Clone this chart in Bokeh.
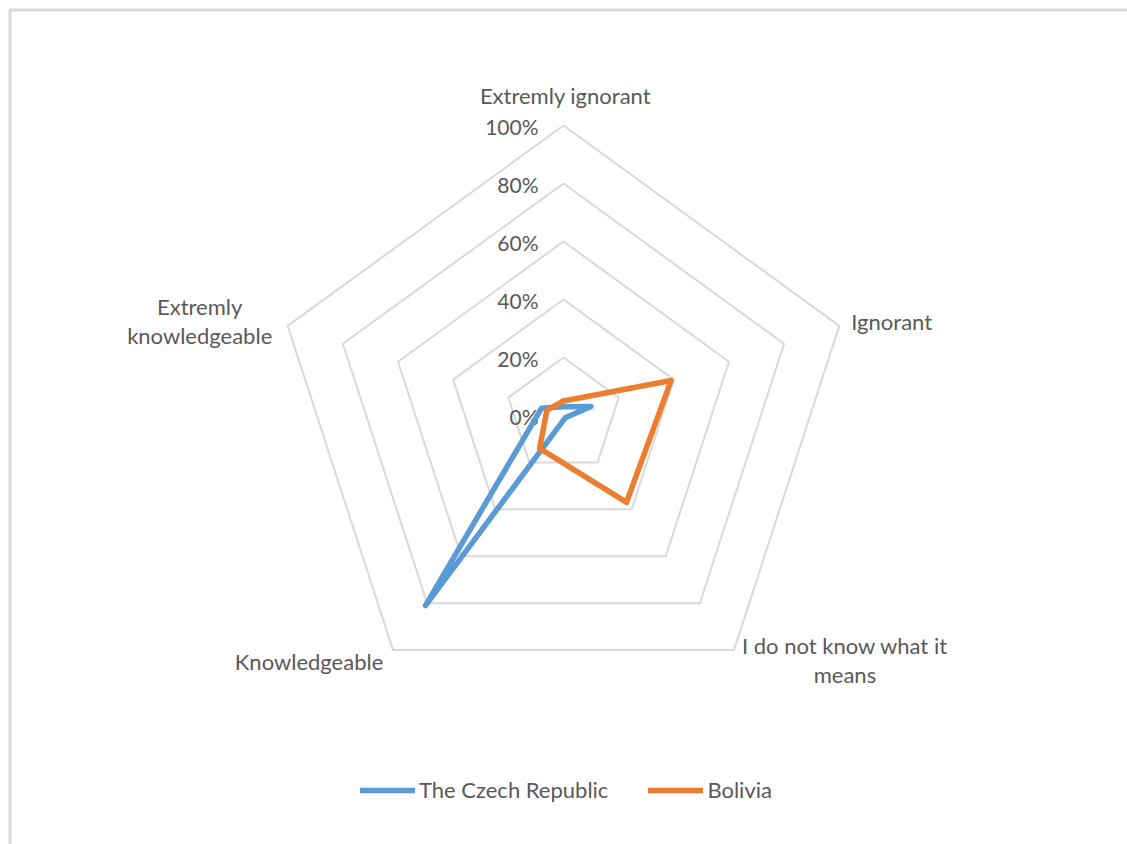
import math
from bokeh.plotting import figure
from bokeh.models import Range1d, Legend, LegendItem, ColumnDataSource
from bokeh.core.properties import value
from bokeh.embed import file_html
from bokeh.resources import INLINE

# ---- data ----
categories = ["Extremly ignorant", "Ignorant", "I do not know what it\nmeans",
              "Knowledgeable", "Extremly\nknowledgeable"]
czech = [3, 10, 1, 81, 8]        # %
bolivia = [5, 39, 37, 14, 6]     # %
tick_values = [0, 20, 40, 60, 80, 100]
tick_labels = ["0%", "20%", "40%", "60%", "80%", "100%"]
series_names = ["The Czech Republic", "Bolivia"]

# ---- layout (pixels) ----
W, H = 1127, 844
CX, CY = 563, 415      # centre of radar in page pixels
R = 290                # pixels for 100%
FONT = "Lato"
TXT = "#595959"
GRID = "#d9d9d9"
BLUE = "#5B9BD5"
ORANGE = "#ED7D31"

def px(x):
    return (x - CX) / R

def py(y):
    return (CY - y) / R

n = len(categories)
angles = [math.pi / 2 - 2 * math.pi * i / n for i in range(n)]

p = figure(width=W, height=H, output_backend="svg", toolbar_location=None,
           x_range=Range1d(px(0), px(W)), y_range=Range1d(py(H), py(0)),
           min_border=0)
p.axis.visible = False
p.grid.visible = False
p.outline_line_color = None
p.background_fill_color = "white"
p.border_fill_color = "white"

# chart border (extends past the right/bottom edge like the reference)
p.quad(left=[px(9.5)], right=[px(W + 20)], top=[py(9.5)], bottom=[py(H + 20)],
       fill_color=None, line_color=GRID, line_width=3)

# grid pentagons
for v in tick_values[1:]:
    r = v / 100
    xs = [r * math.cos(a) for a in angles] + [r * math.cos(angles[0])]
    ys = [r * math.sin(a) for a in angles] + [r * math.sin(angles[0])]
    p.line(xs, ys, line_color=GRID, line_width=2)

# tick labels
p.text(x=[0] * len(tick_values), y=[v / 100 for v in tick_values], text=tick_labels,
       x_offset=-25, y_offset=1, text_align="right", text_baseline="middle",
       text_font=value(FONT), text_font_size="21px", text_color=TXT)

# category labels
lab_x = [math.cos(a) for a in angles]
lab_y = [math.sin(a) for a in angles]
lab_dx = [2, 12, 111, -84, -88]
lab_dy = [-30, -4, 10, 11, -5]
lab_align = ["center", "left", "center", "center", "center"]
lab_base = ["middle", "middle", "middle", "middle", "middle"]
src = ColumnDataSource(dict(x=lab_x, y=lab_y, text=categories, dx=lab_dx, dy=lab_dy,
                            align=lab_align, base=lab_base))
p.text(x="x", y="y", text="text", x_offset="dx", y_offset="dy", text_align="align",
       text_baseline="base", source=src, text_font=value(FONT), text_font_size="22px",
       text_color=TXT, text_line_height=1.1)

# series
renderers = []
for vals, col in [(czech, BLUE), (bolivia, ORANGE)]:
    xs = [v / 100 * math.cos(a) for v, a in zip(vals, angles)]
    ys = [v / 100 * math.sin(a) for v, a in zip(vals, angles)]
    xs.append(xs[0]); ys.append(ys[0])
    r = p.line(xs, ys, line_color=col, line_width=5.5, line_join="round", line_cap="round")
    renderers.append(r)

legend = Legend(items=[LegendItem(label=series_names[i], renderers=[renderers[i]])
                       for i in range(2)],
                location=(360, 41), orientation="horizontal",
                glyph_width=55, glyph_height=20, label_standoff=4, spacing=40,
                padding=0, margin=0, border_line_color=None, background_fill_alpha=0,
                label_text_font=FONT, label_text_font_size="22px", label_text_color=TXT)
p.add_layout(legend, "center")

open("out.html", "w").write(file_html(p, INLINE))
